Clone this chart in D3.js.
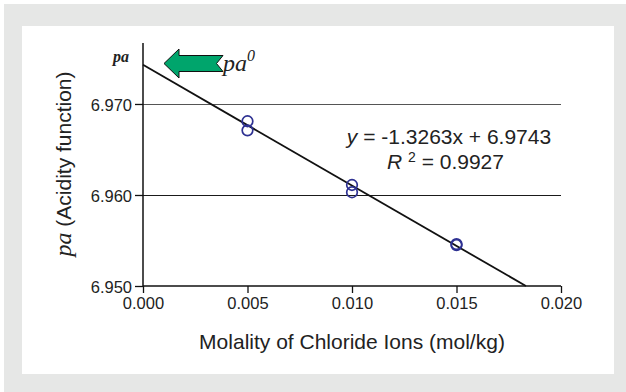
<!DOCTYPE html>
<html><head><meta charset="utf-8">
<script src="https://cdn.jsdelivr.net/npm/d3@7"></script>
<style>
html,body{margin:0;padding:0;background:#fff;}
svg{display:block;}
</style></head>
<body>
<svg id="chart" width="626" height="392"></svg>
<script>
// ---- data ----
const molality = [0.005, 0.005, 0.010, 0.010, 0.015, 0.015];
const paValues = [6.9681, 6.9671, 6.9611, 6.9603, 6.9546, 6.9545];
const xTicks = [0.000, 0.005, 0.010, 0.015, 0.020];
const yTicks = [6.950, 6.960, 6.970];
const fitSlope = -1.3263;
const fitIntercept = 6.9743;
const eqText = "y = -1.3263x + 6.9743";
const r2Text = "0.9927";

const svg = d3.select("#chart");
const SANS = "'Liberation Sans', Arial, sans-serif";
const SERIF = "'Liberation Serif', 'Times New Roman', serif";

// background
svg.append("rect").attr("x",4).attr("y",4).attr("width",622).attr("height",388).attr("fill","#e6e7e6");
svg.append("rect").attr("x",22).attr("y",26).attr("width",592).attr("height",348).attr("fill","#ffffff");

const x = d3.scaleLinear().domain([0, 0.02]).range([143, 561]);
const y = d3.scaleLinear().domain([6.95, 6.9767]).range([286, 43]);

// gridlines
svg.append("g").selectAll("line").data(yTicks.filter(d => d > 6.95)).join("line")
  .attr("x1", x(0)).attr("x2", x(0.02))
  .attr("y1", d => Math.round(y(d)) + 0.5).attr("y2", d => Math.round(y(d)) + 0.5)
  .attr("stroke", (d,i) => i === 0 ? "#1a1a1a" : "#555").attr("stroke-width", 1.2);

// axes
const xAxis = d3.axisBottom(x).tickValues(xTicks).tickFormat(d3.format(".3f")).tickSize(7).tickPadding(4);
const gx = svg.append("g").attr("transform", `translate(0,${y(6.95)})`).call(xAxis);
gx.select(".domain").attr("stroke","#111").attr("stroke-width",1.5).attr("d", `M${x(0)},0H${x(0.02)}`);
gx.selectAll(".tick line").attr("stroke","#111").attr("stroke-width",1.3);
gx.selectAll(".tick text").attr("font-family", SANS).attr("font-size", 16.5).attr("fill","#222");

const yAxis = d3.axisLeft(y).tickValues(yTicks).tickFormat(d3.format(".3f")).tickSize(8).tickPadding(3);
const gy = svg.append("g").attr("transform", `translate(${x(0)},0)`).call(yAxis);
gy.select(".domain").attr("stroke","#111").attr("stroke-width",1.5).attr("d", `M0,${y(6.95)}V${y.range()[1]}`);
gy.selectAll(".tick line").attr("stroke","#111").attr("stroke-width",1.3);
gy.selectAll(".tick text").attr("font-family", SANS).attr("font-size", 16.5).attr("fill","#222").attr("dy","0.42em");

// regression line
const xEnd = (6.95 - fitIntercept) / fitSlope;
svg.append("line")
  .attr("x1", x(0)).attr("y1", y(fitIntercept))
  .attr("x2", x(xEnd)).attr("y2", y(fitSlope * xEnd + fitIntercept))
  .attr("stroke", "#111").attr("stroke-width", 1.8);

// points
svg.append("g").selectAll("circle").data(molality.map((m,i)=>[m, paValues[i]])).join("circle")
  .attr("cx", d => x(d[0])).attr("cy", d => y(d[1])).attr("r", 5.3)
  .attr("fill", "none").attr("stroke", "#2e3192").attr("stroke-width", 1.7);

// equation
svg.append("text").attr("x", 449).attr("y", 144).attr("text-anchor","middle")
  .attr("font-family", SANS).attr("font-size", 21).attr("fill", "#222")
  .call(t => {
    t.append("tspan").attr("font-style","italic").text("y");
    t.append("tspan").text(eqText.slice(1));
  });
const r2 = svg.append("text").attr("x", 387).attr("y", 168.5)
  .attr("font-family", SANS).attr("font-size", 21).attr("fill", "#222");
r2.append("tspan").attr("font-style","italic").text("R ");
r2.append("tspan").attr("font-size", 14).attr("dy", -7).text("2");
r2.append("tspan").attr("dy", 7).text(" = " + r2Text);

// arrow
const arrow = [[164,63.5],[179,49],[179,55.5],[223,55.5],[216.5,63.5],[223,71.5],[179,71.5],[179,78]];
svg.append("path").attr("d", d3.line()(arrow) + "Z")
  .attr("fill", "#00a56c").attr("stroke", "#111").attr("stroke-width", 1);

// pa0 label
const p0 = svg.append("text").attr("x", 223).attr("y", 71)
  .attr("font-family", SERIF).attr("font-style","italic").attr("font-size", 24).attr("fill","#222");
p0.append("tspan").text("pa");
p0.append("tspan").attr("font-size", 16).attr("dy", -10).text("0");

// pa top label
svg.append("text").attr("x", 113).attr("y", 62)
  .attr("font-family", SERIF).attr("font-style","italic").attr("font-weight","bold")
  .attr("font-size", 16).attr("fill","#222").text("pa");

// y axis title
const yt = svg.append("text").attr("transform", "translate(71,164) rotate(-90)")
  .attr("text-anchor","middle").attr("font-family", SANS).attr("font-size", 21).attr("fill","#222");
yt.append("tspan").attr("font-family", SERIF).attr("font-style","italic").attr("font-size", 24).text("pa");
yt.append("tspan").text(" (Acidity function)");

// x axis title
svg.append("text").attr("x", 352).attr("y", 349).attr("text-anchor","middle")
  .attr("font-family", SANS).attr("font-size", 21).attr("fill","#222")
  .text("Molality of Chloride Ions (mol/kg)");
</script>
</body></html>
